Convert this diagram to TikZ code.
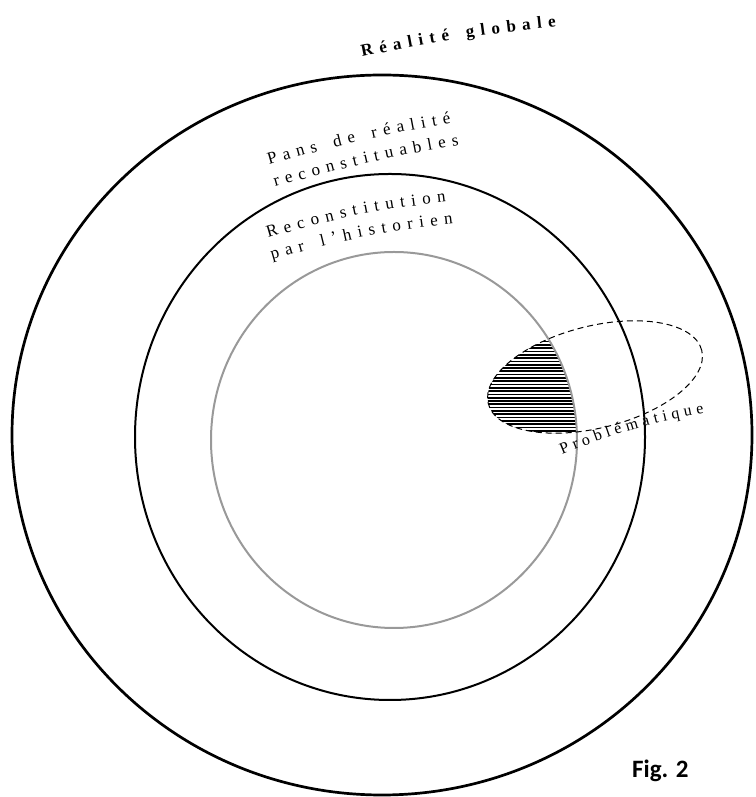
\documentclass[tikz,border=0pt]{standalone}
\usepackage{fontspec}
\setmainfont{Liberation Serif}
\newfontfamily\figfont{Carlito}
\usetikzlibrary{decorations.text}

\newcommand\lblfont{\fontsize{17}{20}\selectfont}
\newcommand\probfont{\fontsize{16}{19}\selectfont}
\newcommand\globfont{\bfseries\fontsize{17}{20}\selectfont}

\begin{document}
\begin{tikzpicture}[x=1pt, y=1pt,
    ring/.style={line width=2pt},
    spread/.style={decorate, decoration={text along path, text align=fit to path, text={#1}}},
    hatch/.style={line width=1.7pt}]
    \useasboundingbox (0,0) rectangle (755,797);

    \begin{scope}
        \clip[rotate around={14:(595,420)}] (595,420) ellipse [x radius=110, y radius=51];
        \clip (394,357) ellipse [x radius=183, y radius=188];
        \foreach \y in {330,333.3,...,480}
            \draw[hatch] (470,\y) -- (600,\y);
    \end{scope}

    \draw[ring, line width=2.7pt] (382,362) ellipse [x radius=370, y radius=360];
    \draw[ring] (390,360) ellipse [x radius=255, y radius=263];
    \draw[ring, black!40] (394,357) ellipse [x radius=183, y radius=188];
    \draw[line width=1pt, dash pattern=on 6pt off 4pt, rotate around={14:(595,420)}]
        (595,420) ellipse [x radius=110, y radius=51];

    \coordinate (globA) at (362,740);
    \coordinate (globB) at (556,770);
    \coordinate (pansA) at (269,632);
    \coordinate (pansB) at (451,674);
    \coordinate (recsA) at (275,610);
    \coordinate (recsB) at (459,652);
    \coordinate (reconA) at (268,559);
    \coordinate (reconB) at (446,595);
    \coordinate (histA) at (272,537);
    \coordinate (histB) at (453,573);
    \coordinate (probA) at (562,342);
    \coordinate (probB) at (704,384);

    \path[spread={|\globfont|Réalité globale}] (globA) to[bend left=3] (globB);
    \path[spread={|\lblfont|Pans de réalité}] (pansA) to[bend left=3] (pansB);
    \path[spread={|\lblfont|reconstituables}] (recsA) to[bend left=3] (recsB);
    \path[spread={|\lblfont|Reconstitution}] (reconA) to[bend left=5] (reconB);
    \path[spread={|\lblfont|par l’historien}] (histA) to[bend left=5] (histB);
    \path[spread={|\probfont|Problématique}] (probA) to[bend left=6] (probB);

    \node[inner sep=0pt, anchor=base west, font=\figfont\bfseries\fontsize{25}{30}\selectfont] (fig) at (632,19) {Fig. 2};
\end{tikzpicture}
\end{document}
